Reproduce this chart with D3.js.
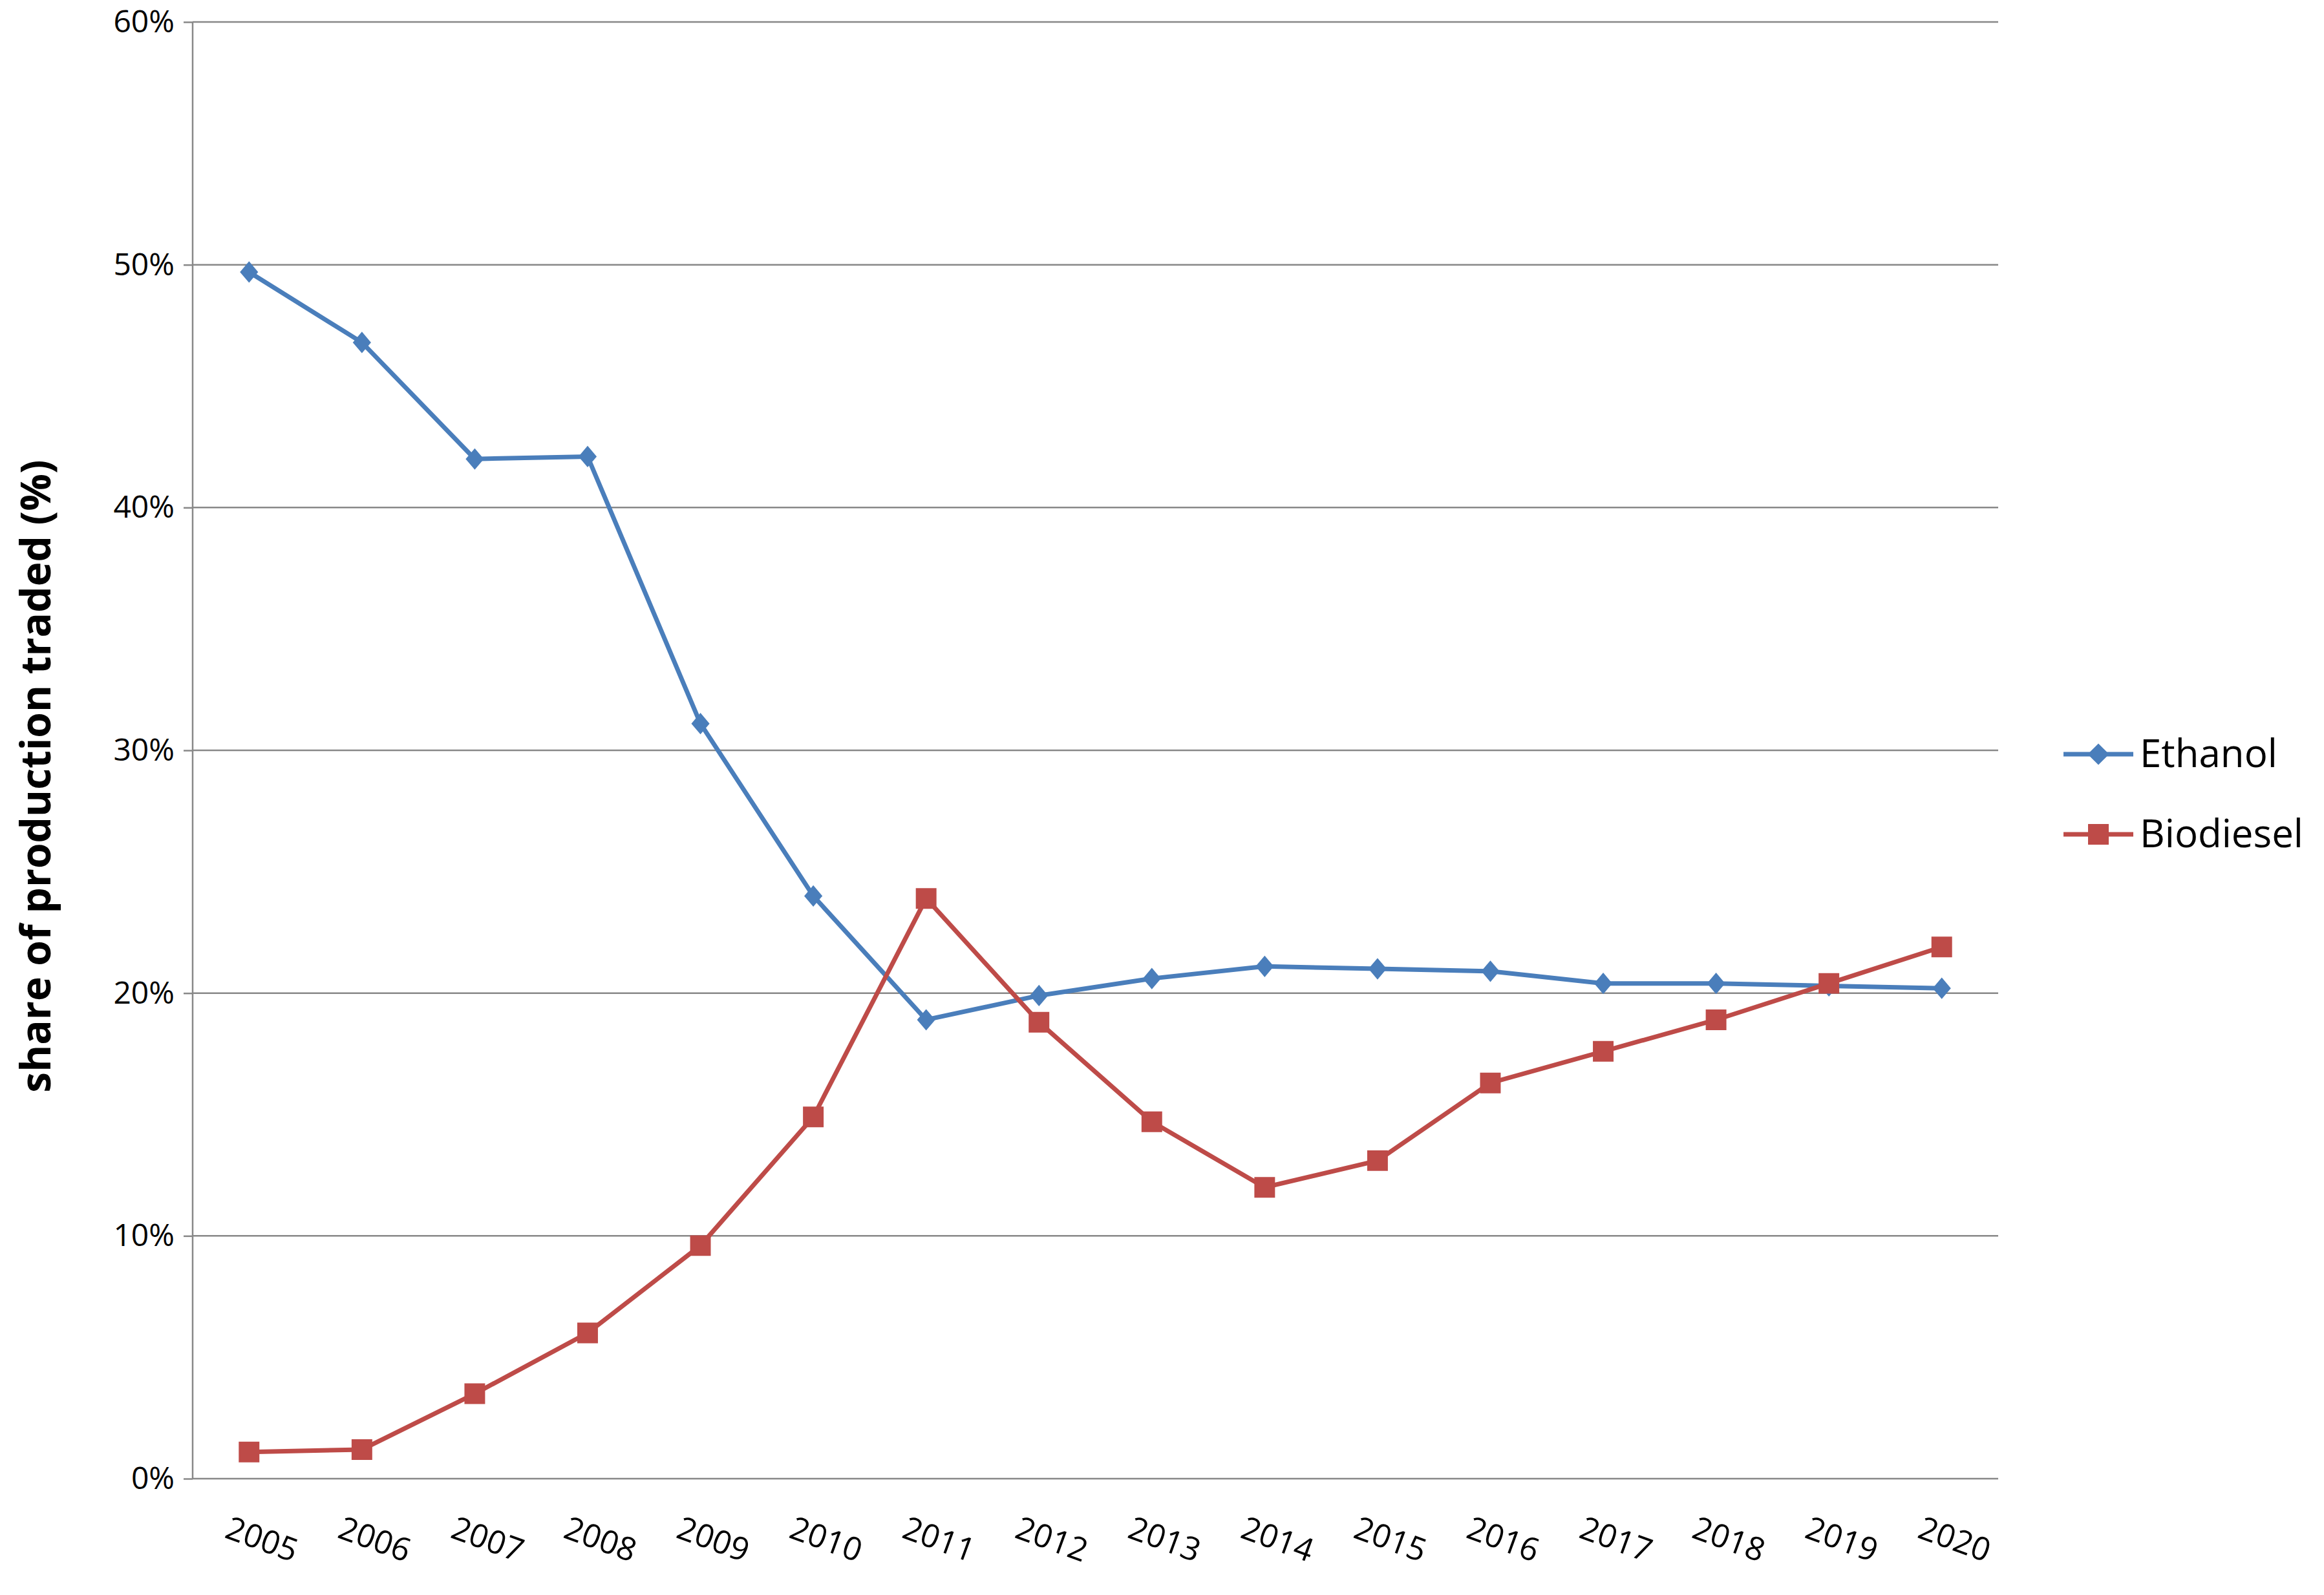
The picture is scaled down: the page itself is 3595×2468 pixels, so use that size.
<!DOCTYPE html>
<html><head><meta charset="utf-8">
<script src="https://cdn.jsdelivr.net/npm/d3@7"></script>
<style>body{margin:0;background:#fff}</style>
</head><body><svg id="c" width="3595" height="2468"></svg>
<script>
const years = ['2005','2006','2007','2008','2009','2010','2011','2012','2013','2014','2015','2016','2017','2018','2019','2020']
const ethanol = [49.7, 46.8, 42.0, 42.1, 31.1, 24.0, 18.9, 19.9, 20.6, 21.1, 21.0, 20.9, 20.4, 20.4, 20.3, 20.2]
const biodiesel = [1.1, 1.2, 3.5, 6.0, 9.6, 14.9, 23.9, 18.8, 14.7, 12.0, 13.1, 16.3, 17.6, 18.9, 20.4, 21.9]
const yTicks = [0, 10, 20, 30, 40, 50, 60]

const svg = d3.select('#c')
const L = 298, R = 3091, T = 34, B = 2288
const font = 'Open Sans, Liberation Sans, sans-serif'

const x = d3.scaleBand().domain(years).range([L, R])
const y = d3.scaleLinear().domain([0, 60]).range([B, T])

// grid
svg.append('g').selectAll('line').data(yTicks).join('line')
  .attr('x1', L).attr('x2', R).attr('y1', d => y(d)).attr('y2', d => y(d))
  .attr('stroke', '#888').attr('stroke-width', 2.5)
svg.append('line').attr('x1', L).attr('x2', L).attr('y1', T).attr('y2', B)
  .attr('stroke', '#888').attr('stroke-width', 2.5)

// y axis
const ya = svg.append('g').attr('transform', `translate(${L},0)`)
  .call(d3.axisLeft(y).tickValues(yTicks).tickFormat(d => d + '%').tickSize(14).tickPadding(14))
ya.select('.domain').remove()
ya.selectAll('line').attr('stroke', '#888').attr('stroke-width', 2.5)
ya.selectAll('text').attr('font-family', font).attr('font-size', 48).attr('fill', '#000')

// x axis
const xa = svg.append('g').attr('transform', `translate(0,${B})`)
  .call(d3.axisBottom(x).tickSize(0))
xa.select('.domain').remove()
xa.selectAll('text')
  .attr('font-family', font).attr('font-size', 50).attr('fill', '#000')
  .attr('text-anchor', 'middle')
  .attr('transform', d => `translate(${x.bandwidth() * 0.08},110) rotate(20)`)
  .attr('y', 0).attr('dy', '0')

svg.append('text')
  .attr('transform', `translate(78,${(T + B) / 2 + 40}) rotate(-90)`)
  .attr('text-anchor', 'middle').attr('font-family', font).attr('font-weight', 'bold')
  .attr('font-size', 64).text('share of production  traded (%)')

const cx = d => x(d) + x.bandwidth() / 2
const series = [
  { name: 'Ethanol', vals: ethanol, color: '#4a7ebb', sym: d3.symbolDiamond2, size: 700 },
  { name: 'Biodiesel', vals: biodiesel, color: '#be4b48', sym: d3.symbolSquare2, size: 1300 }
]
const line = d3.line().x((d, i) => cx(years[i])).y(d => y(d))

series.forEach((s, k) => {
  svg.append('path').datum(s.vals).attr('d', line)
    .attr('fill', 'none').attr('stroke', s.color).attr('stroke-width', 7)
  svg.append('g').selectAll('path').data(s.vals).join('path')
    .attr('transform', (d, i) => `translate(${cx(years[i])},${y(d)})` + (k === 0 ? ' scale(0.85,1)' : ''))
    .attr('d', d3.symbol(s.sym, s.size)).attr('fill', s.color)
  const ly = 1167 + k * 124
  svg.append('line').attr('x1', 3192).attr('x2', 3300).attr('y1', ly).attr('y2', ly)
    .attr('stroke', s.color).attr('stroke-width', 7)
  svg.append('path').attr('transform', `translate(3246,${ly})`)
    .attr('d', d3.symbol(s.sym, s.size)).attr('fill', s.color)
  svg.append('text').attr('x', 3310).attr('y', ly + 20).attr('font-family', font)
    .attr('font-size', 60).text(s.name)
})
</script></body></html>
